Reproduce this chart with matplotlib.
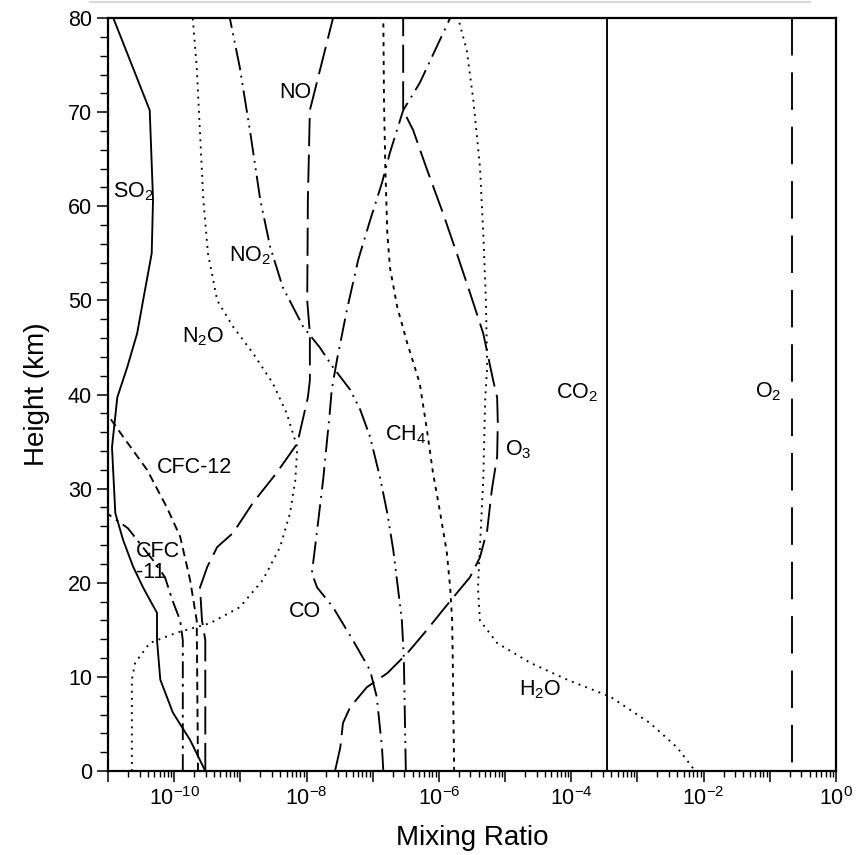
import numpy as np
import matplotlib
matplotlib.use('Agg')
import matplotlib.pyplot as plt
from matplotlib.ticker import LogLocator, FuncFormatter, MultipleLocator, NullFormatter
from matplotlib.lines import Line2D

plt.rcParams['font.family'] = ['Liberation Sans', 'DejaVu Sans']
plt.rcParams['mathtext.fontset'] = 'custom'
plt.rcParams['mathtext.rm'] = 'Liberation Sans'
plt.rcParams['mathtext.it'] = 'Liberation Sans:italic'
plt.rcParams['mathtext.bf'] = 'Liberation Sans:bold'

# profiles: height (km) and log10 of mixing ratio
so2_km = [0, 3.3, 6.2, 9.7, 13.9, 16.8, 19.5, 21.7, 24.5, 27.4, 34.4, 39.7, 42.9, 46.5, 50, 55, 60.7, 70.2, 80]
so2_lg = [-9.53, -9.76, -10.02, -10.21, -10.26, -10.26, -10.47, -10.62, -10.77, -10.89, -10.94, -10.86,
          -10.71, -10.56, -10.47, -10.34, -10.32, -10.37, -10.92]

n2o_km = [0, 9.7, 11.5, 13.6, 14.7, 15.7, 17.4, 20.3, 23.8, 27.4, 30.9, 34.4, 38.0, 41.2, 44.4, 47.2,
          50.0, 55.0, 60.7, 67.8, 74.8, 80]
n2o_lg = [-10.64, -10.64, -10.59, -10.37, -9.96, -9.46, -9.01, -8.66, -8.40, -8.25, -8.17, -8.14, -8.30,
          -8.51, -8.81, -9.11, -9.35, -9.49, -9.56, -9.61, -9.66, -9.72]

no2_km = [0, 12.1, 16.0, 19.5, 23.5, 27.4, 31.2, 35.5, 38.4, 40.5, 42.9, 45.0, 47.2, 51.4, 55.7, 60.7, 67.8, 74.8, 80]
no2_lg = [-6.50, -6.53, -6.56, -6.62, -6.69, -6.78, -6.89, -7.04, -7.19, -7.34, -7.60, -7.80, -8.05,
          -8.36, -8.55, -8.70, -8.85, -9.01, -9.16]

no_km = [0, 13.9, 16.0, 19.5, 21.7, 23.8, 25.3, 28.5, 31.7, 34.8, 39.7, 41.5, 46.5, 50.0, 60.7, 70.2, 71.6, 80]
no_lg = [-9.53, -9.53, -9.58, -9.61, -9.50, -9.35, -9.11, -8.81, -8.45, -8.14, -7.98, -7.95, -7.95, -7.99,
         -7.98, -7.95, -7.90, -7.60]

cfc12_km = [0, 16.0, 20.3, 24.9, 28.0, 32.0, 35.5, 38.0]
cfc12_lg = [-9.64, -9.66, -9.76, -9.91, -10.11, -10.41, -10.77, -11.02]

cfc11_km = [0, 13.9, 16.0, 18.2, 20.6, 22.4, 25.8, 27.4]
cfc11_lg = [-9.87, -9.87, -9.91, -10.03, -10.14, -10.32, -10.70, -11.02]

o3_km = [0, 2.5, 5.1, 6.8, 8.9, 10.4, 12.5, 15.0, 17.1, 18.9, 20.6, 22.7, 25.6, 29.9, 33.4, 37.0, 39.7,
         41.5, 46.5, 50.8, 55.0, 59.3, 63.9, 68.1, 70.2, 80]
o3_lg = [-7.57, -7.49, -7.45, -7.34, -7.09, -6.78, -6.48, -6.18, -5.94, -5.73, -5.53, -5.38, -5.27, -5.20,
         -5.12, -5.11, -5.12, -5.18, -5.33, -5.53, -5.73, -5.94, -6.18, -6.39, -6.54, -6.54]

co_km = [0, 2.5, 7.9, 10.7, 13.9, 17.4, 19.5, 21.0, 25.6, 30.9, 38.0, 40.5, 43.7, 49.0, 54.3, 58.5,
         62.5, 65.7, 70.2, 73.1, 80]
co_lg = [-6.84, -6.86, -6.94, -7.04, -7.30, -7.60, -7.84, -7.92, -7.84, -7.75, -7.65, -7.62, -7.54,
         -7.39, -7.22, -7.04, -6.86, -6.74, -6.54, -6.29, -5.83]

ch4_km = [0, 11.5, 16.0, 19.5, 23.2, 27.4, 31.7, 36.2, 41.2, 45.5, 49.3, 53.5, 57.2, 64.2, 71.3, 80]
ch4_lg = [-5.77, -5.79, -5.80, -5.83, -5.88, -5.98, -6.09, -6.18, -6.29, -6.48, -6.63, -6.74, -6.78,
          -6.81, -6.83, -6.84]

h2o_km = [0.3, 2.5, 5.1, 7.9, 9.7, 11.5, 13.6, 16.0, 19.5, 23.8, 30.9, 39.7, 42.9, 50.0, 57.2, 64.2,
          71.3, 76.6, 80]
h2o_lg = [-2.16, -2.40, -2.81, -3.41, -4.06, -4.62, -5.12, -5.38, -5.41, -5.38, -5.33, -5.30, -5.27,
          -5.29, -5.33, -5.38, -5.48, -5.58, -5.71]

co2_lg = -3.46
o2_lg = -0.66

# label text, log10 x, km
labels = [
    ('NO', -8.17, 72.1), ('SO$_2$', -10.62, 61.5), ('NO$_2$', -8.85, 54.7),
    ('N$_2$O', -9.56, 46.1), ('CFC-12', -9.70, 32.2), ('CO', -8.02, 16.9),
    ('CH$_4$', -6.51, 35.7), ('O$_3$', -4.80, 34.1), ('CO$_2$', -3.91, 40.2),
    ('O$_2$', -1.03, 40.3), ('H$_2$O', -4.47, 8.6),
]

fig = plt.figure(figsize=(8.67, 8.55), dpi=100)
ax = fig.add_axes([0.1246, 0.0982, 0.8396, 0.8807])

lw = 1.35
def prof(km, lg, ls):
    ax.plot(10.0 ** np.array(lg), km, color='black', lw=lw, linestyle=ls)

prof(so2_km, so2_lg, '-')
prof(n2o_km, n2o_lg, (0, (1, 2.8)))
prof(no2_km, no2_lg, (0, (12, 3, 1, 3, 1, 3)))
prof(no_km, no_lg, (0, (15, 4.5)))
prof(cfc12_km, cfc12_lg, (0, (4.4, 2.8)))
prof(cfc11_km, cfc11_lg, (0, (9, 3, 1.5, 3)))
prof(o3_km, o3_lg, (0, (15, 4.5)))
prof(co_km, co_lg, (0, (12, 3.5, 1, 3.5)))
prof(ch4_km, ch4_lg, (0, (2.2, 2.8)))
prof(h2o_km, h2o_lg, (0, (1, 2.8)))
ax.plot([10.0 ** co2_lg] * 2, [0, 80], color='black', lw=lw)
# drawn top-down so the dash pattern starts at the upper frame
ax.plot([10.0 ** o2_lg] * 2, [80, 0], color='black', lw=lw, linestyle=(0, (20, 9)))

for txt, lx, ky in labels:
    ax.text(10.0 ** lx, ky, txt, fontsize=15.5, ha='center', va='center')
ax.text(10.0 ** -10.58, 22.2, 'CFC\n-11', fontsize=15.5, ha='left', va='center', linespacing=1.05)

ax.set_xscale('log')
ax.set_xlim(1e-11, 1)
ax.set_ylim(0, 80)
ax.xaxis.set_major_locator(LogLocator(base=10, numticks=30))
ax.xaxis.set_minor_locator(LogLocator(base=10, subs=np.arange(2, 10), numticks=30))
ax.xaxis.set_minor_formatter(NullFormatter())

def fmt(v, pos):
    e = int(round(np.log10(v)))
    if e % 2 == 0:
        return r'$10^{%d}$' % e
    return ''
ax.xaxis.set_major_formatter(FuncFormatter(fmt))
ax.yaxis.set_major_locator(MultipleLocator(10))
ax.yaxis.set_minor_locator(MultipleLocator(2))

ax.tick_params(which='major', direction='out', length=8, width=1.1, labelsize=15.5)
ax.tick_params(which='minor', direction='out', length=4, width=1.0)
ax.tick_params(axis='y', which='minor', length=6)
for s in ax.spines.values():
    s.set_linewidth(1.6)

ax.set_xlabel('Mixing Ratio', fontsize=20, labelpad=11)
ax.set_ylabel('Height (km)', fontsize=20, labelpad=13)

# faint rule above the frame
fig.add_artist(Line2D([90 / 867, 810 / 867], [1 - 2 / 855] * 2, color='#d8d8d8', lw=1.5))

fig.savefig('out.png', dpi=100)
